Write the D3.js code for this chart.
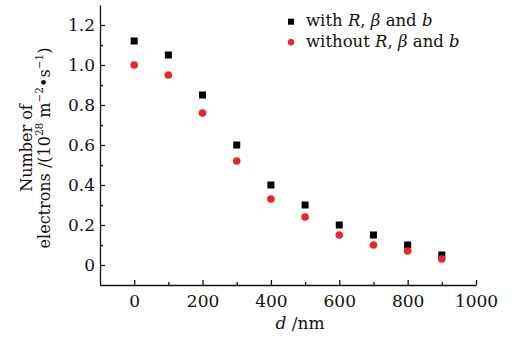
<!DOCTYPE html>
<html>
<head>
<meta charset="utf-8">
<script src="https://cdn.jsdelivr.net/npm/d3@7"></script>
<style>
  body { margin: 0; background: #fff; }
  svg text { font-family: "DejaVu Serif", serif; fill: #111; }
</style>
</head>
<body>
<div id="chart"></div>
<script>
// data
var distances = [0, 100, 200, 300, 400, 500, 600, 700, 800, 900];
var withRBb = [1.12, 1.05, 0.85, 0.60, 0.40, 0.30, 0.20, 0.15, 0.10, 0.05];
var withoutRBb = [1.00, 0.95, 0.76, 0.52, 0.33, 0.24, 0.15, 0.10, 0.07, 0.03];
var xTicks = [0, 200, 400, 600, 800, 1000];
var xMinor = [100, 300, 500, 700, 900];
var yTicks = [0, 0.2, 0.4, 0.6, 0.8, 1.0, 1.2];
var yMinor = [0.1, 0.3, 0.5, 0.7, 0.9, 1.1];

var width = 512, height = 338;
var margin = { top: 5, right: 36, bottom: 53, left: 100 };
var fontFam = '"DejaVu Serif", serif';

var svg = d3.select("#chart").append("svg")
  .attr("width", width)
  .attr("height", height);

var x = d3.scaleLinear().domain([-100, 1000]).range([margin.left, width - margin.right]);
var y = d3.scaleLinear().domain([-0.1, 1.3]).range([height - margin.bottom, margin.top]);

// minor ticks first, then major axes on top
svg.append("g")
  .attr("transform", "translate(0," + (height - margin.bottom) + ")")
  .call(d3.axisBottom(x).tickValues(xMinor).tickSizeInner(-3).tickSizeOuter(0).tickFormat(""))
  .call(g => g.select(".domain").remove());
svg.append("g")
  .attr("transform", "translate(" + margin.left + ",0)")
  .call(d3.axisLeft(y).tickValues(yMinor).tickSizeInner(-3).tickSizeOuter(0).tickFormat(""))
  .call(g => g.select(".domain").remove());

svg.append("g")
  .attr("transform", "translate(0," + (height - margin.bottom) + ")")
  .call(d3.axisBottom(x).tickValues(xTicks).tickSizeInner(-5).tickSizeOuter(0).tickPadding(10)
    .tickFormat(d3.format("d")));
svg.append("g")
  .attr("transform", "translate(" + margin.left + ",0)")
  .call(d3.axisLeft(y).tickValues(yTicks).tickSizeInner(-5).tickSizeOuter(0).tickPadding(5)
    .tickFormat(d => d === 0 ? "0" : d3.format(".1f")(d)));

svg.selectAll(".tick text")
  .style("font-family", fontFam)
  .style("font-size", "17px")
  .attr("fill", "#111");
svg.selectAll(".domain, .tick line").attr("stroke", "#111").attr("stroke-width", 1.3);

// axis titles
var xt = svg.append("text")
  .attr("x", 300).attr("y", 329)
  .attr("text-anchor", "middle")
  .style("font-size", "17px");
xt.append("tspan").style("font-style", "italic").text("d");
xt.append("tspan").text(" /nm");

var yt = svg.append("g").attr("transform", "translate(32,148) rotate(-90)");
yt.append("text").attr("text-anchor", "middle").style("font-size", "16px").text("Number of");
var yt2 = yt.append("text").attr("y", 18).attr("text-anchor", "middle").style("font-size", "16px");
yt2.append("tspan").text("electrons /(10");
yt2.append("tspan").attr("dy", -7).style("font-size", "10.5px").text("28");
yt2.append("tspan").attr("dy", 7).text(" m");
yt2.append("tspan").attr("dy", -7).style("font-size", "10.5px").text("\u22122");
yt2.append("tspan").attr("dy", 7).text("\u2022s");
yt2.append("tspan").attr("dy", -7).style("font-size", "10.5px").text("\u22121");
yt2.append("tspan").attr("dy", 7).text(")");

// points
var sq = 7;
svg.selectAll("rect.with")
  .data(distances)
  .enter()
  .append("rect")
  .attr("class", "with")
  .attr("x", (d, i) => x(d) - sq / 2)
  .attr("y", (d, i) => y(withRBb[i]) - sq / 2)
  .attr("width", sq)
  .attr("height", sq)
  .attr("fill", "#000");

svg.selectAll("circle.without")
  .data(distances)
  .enter()
  .append("circle")
  .attr("class", "without")
  .attr("cx", d => x(d))
  .attr("cy", (d, i) => y(withoutRBb[i]))
  .attr("r", 3.8)
  .attr("fill", "#e8262a");

// legend
var legend = svg.append("g");
legend.append("rect").attr("x", 288).attr("y", 18.7).attr("width", 6).attr("height", 6).attr("fill", "#000");
legend.append("circle").attr("cx", 291).attr("cy", 42.3).attr("r", 3.2).attr("fill", "#e8262a");

function legendText(yPos, prefix) {
  var t = legend.append("text").attr("x", 306).attr("y", yPos).style("font-size", "16.5px");
  t.append("tspan").text(prefix + " ");
  t.append("tspan").style("font-style", "italic").text("R");
  t.append("tspan").text(", ");
  t.append("tspan").style("font-style", "italic").text("\u03b2");
  t.append("tspan").text(" and ");
  t.append("tspan").style("font-style", "italic").text("b");
}
legendText(26, "with");
legendText(47, "without");
</script>
</body>
</html>
